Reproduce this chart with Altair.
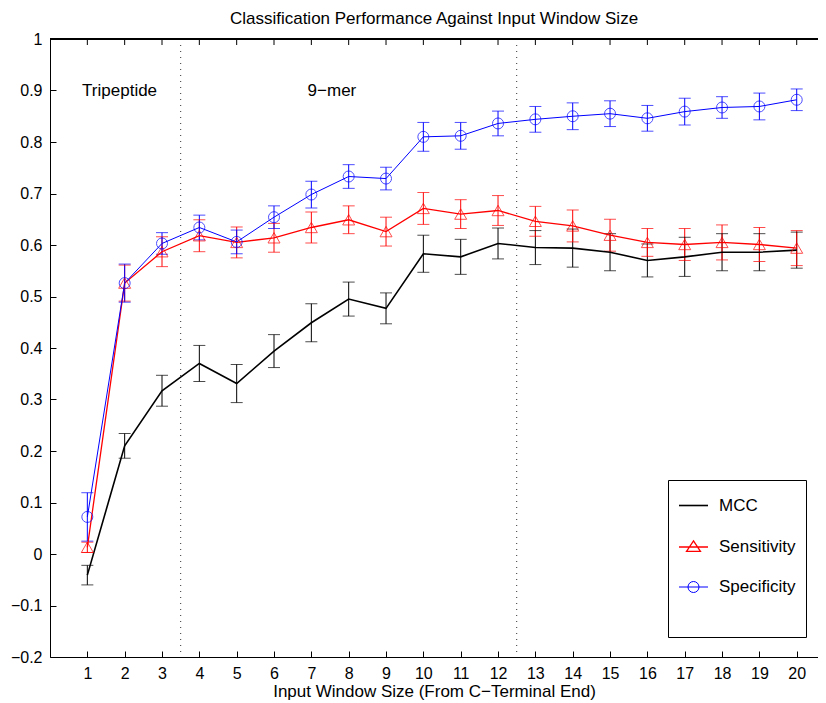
import altair as alt
import pandas as pd

# ---- data ----
window = list(range(1, 21))
mcc = [-0.041, 0.210, 0.317, 0.370, 0.331, 0.394, 0.449, 0.495, 0.477, 0.583,
       0.577, 0.603, 0.595, 0.594, 0.586, 0.570, 0.577, 0.586, 0.586, 0.590]
mcc_err = [0.019, 0.024, 0.030, 0.035, 0.037, 0.032, 0.037, 0.033, 0.030, 0.036,
           0.034, 0.030, 0.033, 0.037, 0.036, 0.032, 0.038, 0.036, 0.036, 0.035]
sens = [0.013, 0.526, 0.587, 0.618, 0.605, 0.614, 0.634, 0.649, 0.626, 0.671,
        0.660, 0.667, 0.646, 0.637, 0.619, 0.605, 0.601, 0.605, 0.601, 0.594]
sens_err = [0.010, 0.035, 0.029, 0.031, 0.030, 0.028, 0.030, 0.027, 0.028, 0.031,
            0.028, 0.029, 0.029, 0.031, 0.031, 0.027, 0.031, 0.034, 0.033, 0.034]
spec = [0.072, 0.526, 0.603, 0.634, 0.606, 0.654, 0.698, 0.733, 0.729, 0.810,
        0.812, 0.836, 0.844, 0.850, 0.855, 0.846, 0.859, 0.867, 0.869, 0.882]
spec_err = [0.047, 0.037, 0.021, 0.024, 0.023, 0.022, 0.026, 0.023, 0.022, 0.028,
            0.026, 0.024, 0.025, 0.026, 0.025, 0.025, 0.026, 0.021, 0.026, 0.021]

series_names = ["MCC", "Sensitivity", "Specificity"]
series_colors = ["#000000", "#ff0000", "#0000ff"]
line_widths = [1.6, 1.0, 1.0]

boundaries = [3.5, 12.5]
region_labels = ["Tripeptide", "9\u2212mer"]
region_label_x = [0.86, 6.9]
region_label_y = [0.9, 0.9]

y_ticks = [-0.2, -0.1, 0, 0.1, 0.2, 0.3, 0.4, 0.5, 0.6, 0.7, 0.8, 0.9, 1]
y_top = [max(y_ticks)]

# legend symbols: a line sample, plus the marker for the marked series
legend_shapes = [
    "M0,-1M0,1M-1,0H1",
    "M0,-1M0,1M-1,0H1M0,-0.42L0.48,0.3L-0.48,0.3Z",
    "M0,-1M0,1M-1,0H1M0.38,0A0.38,0.38,0,1,1,-0.38,0A0.38,0.38,0,1,1,0.38,0",
]

rows = []
for name, vals, errs in [("MCC", mcc, mcc_err), ("Sensitivity", sens, sens_err),
                         ("Specificity", spec, spec_err)]:
    for w, v, e in zip(window, vals, errs):
        rows.append({"window": w, "series": name, "value": v,
                     "lo": v - e, "hi": v + e})
df = pd.DataFrame(rows)
bdf = pd.DataFrame({"b": boundaries})
tdf = pd.DataFrame({"label": region_labels, "x": region_label_x, "y": region_label_y})
topdf = pd.DataFrame({"window": window, "top": y_top * len(window)})

FONT = "Liberation Sans"
TXT = 17
xscale = alt.Scale(domain=[0, 20.57], nice=False, zero=False)
yscale = alt.Scale(domain=[-0.2, 1], nice=False, zero=False)
stroke_scale = alt.Scale(domain=series_names, range=series_colors)
inward = alt.ExprRef(expr="-6")


def xq(field):
    return alt.X(field, scale=xscale, axis=None)


def yq(field):
    return alt.Y(field, scale=yscale)


x_bottom = alt.X("window:Q", scale=xscale,
                 axis=alt.Axis(values=window, orient="bottom", tickSize=inward,
                               title="Input Window Size (From C\u2212Terminal End)",
                               labelPadding=14, titlePadding=2, grid=False))
y_left = alt.Y("value:Q", scale=yscale,
               axis=alt.Axis(values=y_ticks, orient="left", tickSize=inward,
                             labelExpr="format(datum.value, '~g')",
                             labelPadding=14, title=None, grid=False))

base = alt.Chart(df)

errbars = base.mark_rule(strokeWidth=1).encode(
    x=x_bottom, y=y_left, y2="hi:Q",
    stroke=alt.Stroke("series:N", scale=stroke_scale, legend=None),
).transform_calculate(value="datum.lo")

caps = base.transform_fold(["lo", "hi"], as_=["cap", "capv"]).mark_tick(
    orient="horizontal", size=12, thickness=1
).encode(
    x=xq("window:Q"),
    y=yq("capv:Q"),
    color=alt.Color("series:N", scale=stroke_scale, legend=None),
)

lines = base.mark_line().encode(
    x=xq("window:Q"),
    y=yq("value:Q"),
    stroke=alt.Stroke("series:N", scale=stroke_scale, legend=None),
    strokeWidth=alt.StrokeWidth("series:N",
                                scale=alt.Scale(domain=series_names, range=line_widths),
                                legend=None),
    detail="series:N",
)

tri = base.transform_filter("datum.series == 'Sensitivity'").mark_point(
    shape="triangle-up", size=144, filled=False, strokeWidth=1, color="#ff0000"
).encode(x=xq("window:Q"), y=yq("value:Q"))

circ = base.transform_filter("datum.series == 'Specificity'").mark_point(
    shape="circle", size=121, filled=False, strokeWidth=1, color="#0000ff"
).encode(x=xq("window:Q"), y=yq("value:Q"))

legend_spec = alt.Legend(
    title="\u00a0", titleOrient="bottom", titleFontSize=12, titlePadding=12,
    orient="none", legendX=618, legendY=441,
    padding=10, strokeColor="#000000", fillColor="#ffffff",
    symbolSize=841, symbolStrokeWidth=1.2,
    symbolOpacity=1,
    labelFont=FONT, labelFontSize=TXT, labelColor="#000000",
    labelOffset=10, rowPadding=5.5)

legend_layer = base.transform_filter("datum.window == 1").mark_point(
    filled=False, opacity=0
).encode(
    x=xq("window:Q"),
    y=yq("value:Q"),
    stroke=alt.Stroke("series:N", scale=alt.Scale(domain=series_names, range=series_colors),
                      legend=legend_spec),
    fill=alt.Fill("series:N",
                  scale=alt.Scale(domain=series_names, range=["#ffffff"] * 3),
                  legend=legend_spec),
    shape=alt.Shape("series:N", scale=alt.Scale(domain=series_names, range=legend_shapes),
                    legend=legend_spec),
)

dividers = alt.Chart(bdf).mark_rule(
    stroke="#333333", strokeWidth=1, strokeDash=[1, 5]
).encode(x=xq("b:Q"))

texts = alt.Chart(tdf).mark_text(
    align="left", baseline="middle", font=FONT, fontSize=TXT, color="#000000"
).encode(
    x=xq("x:Q"),
    y=yq("y:Q"),
    text="label:N",
)

# top frame edge and its inward ticks (box on, as in the reference)
top_edge = alt.Chart(topdf).mark_rule(stroke="#000000", strokeWidth=1).encode(
    y=yq("top:Q"))

top_ticks = alt.Chart(topdf).mark_rule(stroke="#000000", strokeWidth=1).encode(
    x=xq("window:Q"), y=yq("top:Q"), y2=alt.value(6))

chart = alt.layer(
    legend_layer, dividers, errbars, caps, lines, tri, circ, texts, top_edge, top_ticks
).resolve_axis(x="independent").properties(
    width=768, height=618,
    autosize=alt.AutoSizeParams(type="none"),
    padding={"left": 42, "top": 31, "right": 0, "bottom": 46},
    title=alt.TitleParams("Classification Performance Against Input Window Size",
                          font=FONT, fontSize=TXT, fontWeight="normal", color="#000000",
                          anchor="middle", offset=3),
).configure_view(stroke=None).configure_axis(
    labelFont=FONT, labelFontSize=16, labelColor="#000000",
    titleFont=FONT, titleFontSize=TXT, titleFontWeight="normal", titleColor="#000000",
    domainColor="#000000", tickColor="#000000", domainWidth=1, tickWidth=1,
)

chart.save("out.html", embed_options={"renderer": "svg", "actions": False})
